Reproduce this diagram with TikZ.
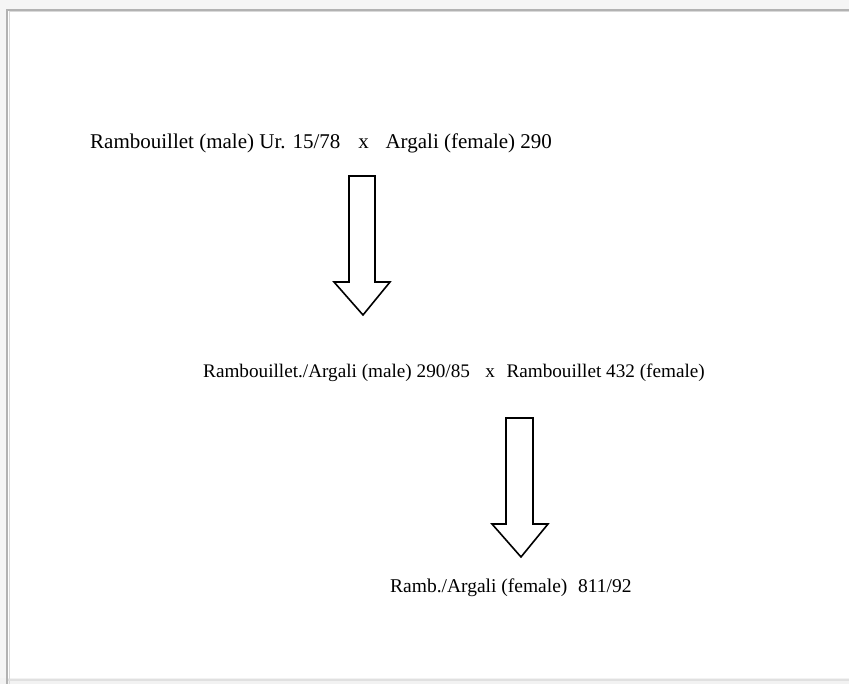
\documentclass[tikz,border=0pt]{standalone}
\usepackage{fontspec}
\setmainfont{Liberation Serif}
\begin{document}
\begin{tikzpicture}[x=1pt,y=-1pt,
  lbl/.style={anchor=base west,inner sep=0pt},
  blockarrow/.style={draw=black,line width=1.6pt,fill=white,line join=miter}]
\useasboundingbox (0,0) rectangle (849,684);
\fill[white] (0,0) rectangle (849,684);
% frame with soft shadow
\fill[black!4] (0,0) rectangle (849,9);
\fill[black!4] (0,0) rectangle (6,684);
\fill[black!5] (0,678) rectangle (849,684);
\draw[black!30,line width=2pt] (7,684) -- (7,10) -- (849,10);
\draw[black!15,line width=1pt] (9,684) -- (9,12) -- (849,12);
\draw[black!12,line width=2pt] (8,680) -- (849,680);
% texts
\node[lbl,font=\fontsize{21}{25}\selectfont] (p1) at (90,149) {Rambouillet (male) Ur. 15/78\hspace{0.85em}x\hspace{0.8em}Argali (female) 290};
\node[lbl,font=\fontsize{19.2}{23}\selectfont] (p2) at (203,378) {Rambouillet./Argali (male) 290/85\hspace{0.8em}x\hspace{0.6em}Rambouillet 432 (female)};
\node[lbl,font=\fontsize{19.5}{23}\selectfont] (p3) at (390,592) {Ramb./Argali (female)\hspace{0.55em}811/92};
% block arrows
\draw[blockarrow] (349,176) -- (375,176) -- (375,282) -- (390,282) -- (363,315) -- (334,282) -- (349,282) -- cycle;
\draw[blockarrow] (506,418) -- (533,418) -- (533,524) -- (548,524) -- (521,557) -- (492,524) -- (506,524) -- cycle;
\end{tikzpicture}
\end{document}
